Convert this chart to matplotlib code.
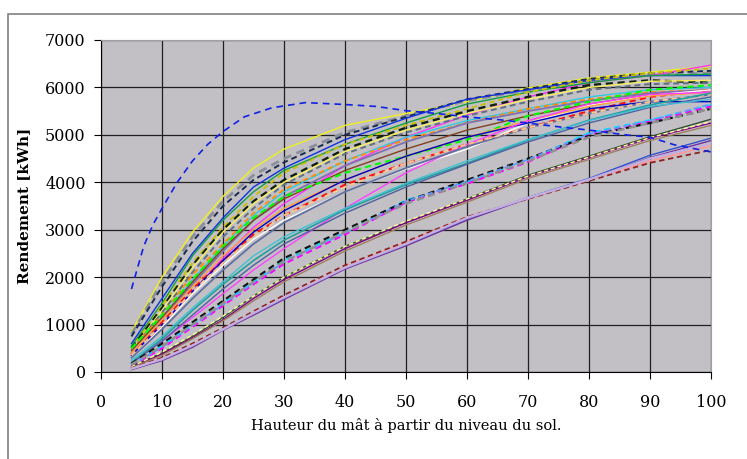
import numpy as np
import matplotlib
matplotlib.use("Agg")
from matplotlib import pyplot as plt
from matplotlib.patches import Rectangle

# mast heights (m) at which every curve is read
hauteur = [5, 10, 15, 20, 25, 30, 40, 50, 60, 70, 80, 90, 100]

# yield curves (kWh), one list per turbine
rendements = [
    [850, 2000, 2950, 3700, 4300, 4700, 5200, 5450, 5700, 5990, 6200, 6320, 6450],
    [800, 1900, 2850, 3600, 4150, 4500, 5050, 5400, 5720, 5950, 6150, 6270, 6300],
    [750, 1800, 2750, 3500, 4050, 4420, 5000, 5380, 5750, 5970, 6180, 6300, 6350],
    [600, 1550, 2500, 3250, 3900, 4300, 4900, 5350, 5750, 5950, 6150, 6250, 6250],
    [350, 1000, 1700, 2400, 3050, 3550, 4350, 4950, 5420, 5800, 6100, 6250, 6470],
    [550, 1450, 2450, 3200, 3800, 4250, 4800, 5250, 5650, 5900, 6100, 6250, 6280],
    [500, 1400, 2300, 3050, 3700, 4200, 4800, 5200, 5550, 5900, 6150, 6300, 6400],
    [500, 1350, 2250, 3000, 3600, 4050, 4700, 5150, 5500, 5800, 6050, 6150, 6100],
    [450, 1300, 2200, 2950, 3550, 4000, 4650, 5100, 5450, 5750, 6000, 6130, 6150],
    [450, 1250, 2100, 2850, 3450, 3950, 4600, 5050, 5400, 5700, 5950, 6070, 6100],
    [400, 1150, 1950, 2650, 3300, 3800, 4450, 4950, 5300, 5550, 5800, 5950, 6000],
    [450, 1200, 2050, 2700, 3350, 3850, 4450, 4900, 5250, 5550, 5750, 5900, 5950],
    [400, 1100, 1850, 2550, 3200, 3700, 4350, 4850, 5250, 5500, 5720, 5880, 5950],
    [450, 1150, 1900, 2600, 3200, 3650, 4250, 4700, 5100, 5400, 5650, 5850, 5900],
    [500, 1200, 1950, 2650, 3250, 3700, 4200, 4550, 4900, 5400, 5700, 5950, 6050],
    [350, 1050, 1750, 2350, 2900, 3300, 3950, 4400, 4800, 5150, 5500, 5800, 5950],
    [300, 950, 1650, 2250, 2800, 3200, 3800, 4280, 4700, 5250, 5620, 5830, 5950],
    [400, 1100, 1800, 2450, 3000, 3450, 4050, 4550, 4950, 5300, 5600, 5820, 5900],
    [350, 1000, 1700, 2350, 2950, 3400, 4050, 4550, 4950, 5250, 5550, 5700, 5700],
    [200, 650, 1150, 1650, 2150, 2600, 3450, 4200, 4800, 5300, 5650, 5850, 5900],
    [300, 900, 1550, 2150, 2700, 3150, 3800, 4300, 4750, 5150, 5450, 5700, 5850],
    [350, 1000, 1700, 2300, 2850, 3300, 3900, 4400, 4800, 5150, 5450, 5700, 5850],
    [200, 700, 1300, 1850, 2350, 2780, 3420, 3950, 4400, 4890, 5310, 5630, 5880],
    [180, 650, 1200, 1750, 2250, 2700, 3350, 3900, 4380, 4850, 5250, 5580, 5800],
    [250, 750, 1350, 1900, 2450, 2850, 3450, 3980, 4450, 4900, 5300, 5600, 5750],
    [150, 550, 1000, 1450, 1900, 2350, 2950, 3620, 4000, 4470, 5040, 5310, 5630],
    [130, 500, 950, 1400, 1850, 2280, 2900, 3580, 3970, 4430, 5000, 5280, 5600],
    [180, 600, 1050, 1500, 1950, 2400, 3000, 3600, 4050, 4500, 4980, 5250, 5550],
    [150, 520, 980, 1420, 1880, 2320, 2930, 3600, 4020, 4480, 5020, 5300, 5650],
    [160, 540, 1000, 1450, 1900, 2330, 2950, 3550, 3980, 4450, 4950, 5250, 5550],
    [120, 400, 750, 1150, 1600, 2000, 2650, 3150, 3650, 4150, 4550, 4960, 5330],
    [100, 380, 720, 1100, 1550, 1950, 2600, 3150, 3620, 4120, 4520, 4930, 5250],
    [110, 420, 780, 1180, 1600, 2000, 2650, 3180, 3650, 4130, 4530, 4940, 5280],
    [90, 350, 700, 1080, 1500, 1900, 2550, 3100, 3580, 4080, 4480, 4880, 5200],
    [60, 260, 550, 900, 1230, 1550, 2190, 2680, 3230, 3680, 4080, 4570, 4930],
    [70, 280, 570, 900, 1250, 1580, 2220, 2730, 3270, 3650, 4050, 4450, 4770],
    [80, 300, 600, 930, 1280, 1620, 2250, 2750, 3270, 3650, 4030, 4410, 4680],
    [50, 240, 520, 880, 1200, 1530, 2170, 2660, 3200, 3660, 4060, 4520, 4880],
    [70, 270, 560, 900, 1240, 1570, 2200, 2700, 3250, 3670, 4060, 4500, 4820],
]

# line looks: (colour, dashed?, width)
styles = [
    ('#f0f020', False, 1.0), ('#8a8f99', True, 2.0), ('#1a2a50', True, 1.4),
    ('#1030e0', False, 1.0), ('#ff30ff', False, 1.0), ('#10a040', False, 1.0),
    ('#c8c000', True, 1.3), ('#102010', True, 1.7), ('#f8f060', False, 1.0),
    ('#607080', True, 1.4), ('#30c8e0', False, 1.0), ('#ff8c00', True, 1.3),
    ('#8070b0', False, 1.3), ('#804020', False, 1.0), ('#00ff00', True, 1.5),
    ('#ff1010', True, 1.5), ('#ffffff', False, 1.0), ('#ffa040', False, 1.0),
    ('#0000c0', False, 1.0), ('#ff40ff', False, 1.0), ('#6070a0', False, 1.3),
    ('#ffc890', True, 1.3), ('#20a0a0', False, 1.2), ('#5060a0', False, 1.0),
    ('#40c0d0', False, 1.0), ('#00e0ff', True, 1.5), ('#ff00ff', True, 1.5),
    ('#101010', True, 1.5), ('#6699ff', True, 1.3), ('#909090', True, 1.7),
    ('#305030', False, 1.0), ('#800080', False, 1.0), ('#ffff99', True, 1.0),
    ('#a08060', False, 1.0), ('#3050d0', False, 1.0), ('#ff9999', False, 1.2),
    ('#902020', True, 1.3), ('#7030a0', False, 1.0), ('#c0b0e0', False, 1.7),
]

# the odd one out: blue dashed curve peaking around 33 m
hauteur_bleu = [5, 7, 8.5, 10, 12.5, 15, 17.5, 20, 23.5, 28, 33.5, 40, 45,
                50, 55, 60, 66, 75, 80, 86, 90, 94, 100]
rendement_bleu = [1750, 2650, 3100, 3450, 4000, 4450, 4800, 5070, 5380, 5570,
                  5680, 5640, 5600, 5510, 5450, 5380, 5310, 5170, 5100, 5000,
                  4950, 4790, 4640]

plt.rcParams['font.family'] = ['DejaVu Serif']

fig = plt.figure(figsize=(7.47, 4.59), dpi=100)
fig.patches.append(Rectangle((8/747, -0.1), 1.2, 1 - 14/459 + 0.1,
                             transform=fig.transFigure, fill=False,
                             edgecolor='#808080', linewidth=1.2))
ax = fig.add_axes([101/747, 87/459, 610/747, 332/459])
ax.set_facecolor('#c2c0c5')

for vals, (col, dashed, lw) in zip(rendements, styles):
    ax.plot(hauteur, vals, color=col, lw=lw,
            linestyle=(0, (3, 2)) if dashed else '-')
ax.plot(hauteur_bleu, rendement_bleu, color='#1020e8', lw=1.2,
        linestyle=(0, (4, 3)))

ax.set_xlim(0, 100)
ax.set_ylim(0, 7000)
ax.set_xticks(np.arange(0, 101, 10))
ax.set_yticks(np.arange(0, 7001, 1000))
ax.grid(True, color='#202020', lw=0.9)
ax.set_axisbelow(True)
ax.tick_params(direction='out', length=5, width=0.8, labelsize=11.5,
               colors='black')
ax.tick_params(axis='x', pad=11)
ax.tick_params(axis='y', pad=6)
for s in ['top', 'right']:
    ax.spines[s].set_color('#a0a0a0')
for s in ['left', 'bottom']:
    ax.spines[s].set_color('black')

ax.set_ylabel('Rendement [kWh]', fontsize=11, fontweight='bold', labelpad=10)
ax.set_xlabel('Hauteur du mât à partir du niveau du sol.', fontsize=10.5,
              labelpad=5)

plt.savefig('out.png', dpi=100)
